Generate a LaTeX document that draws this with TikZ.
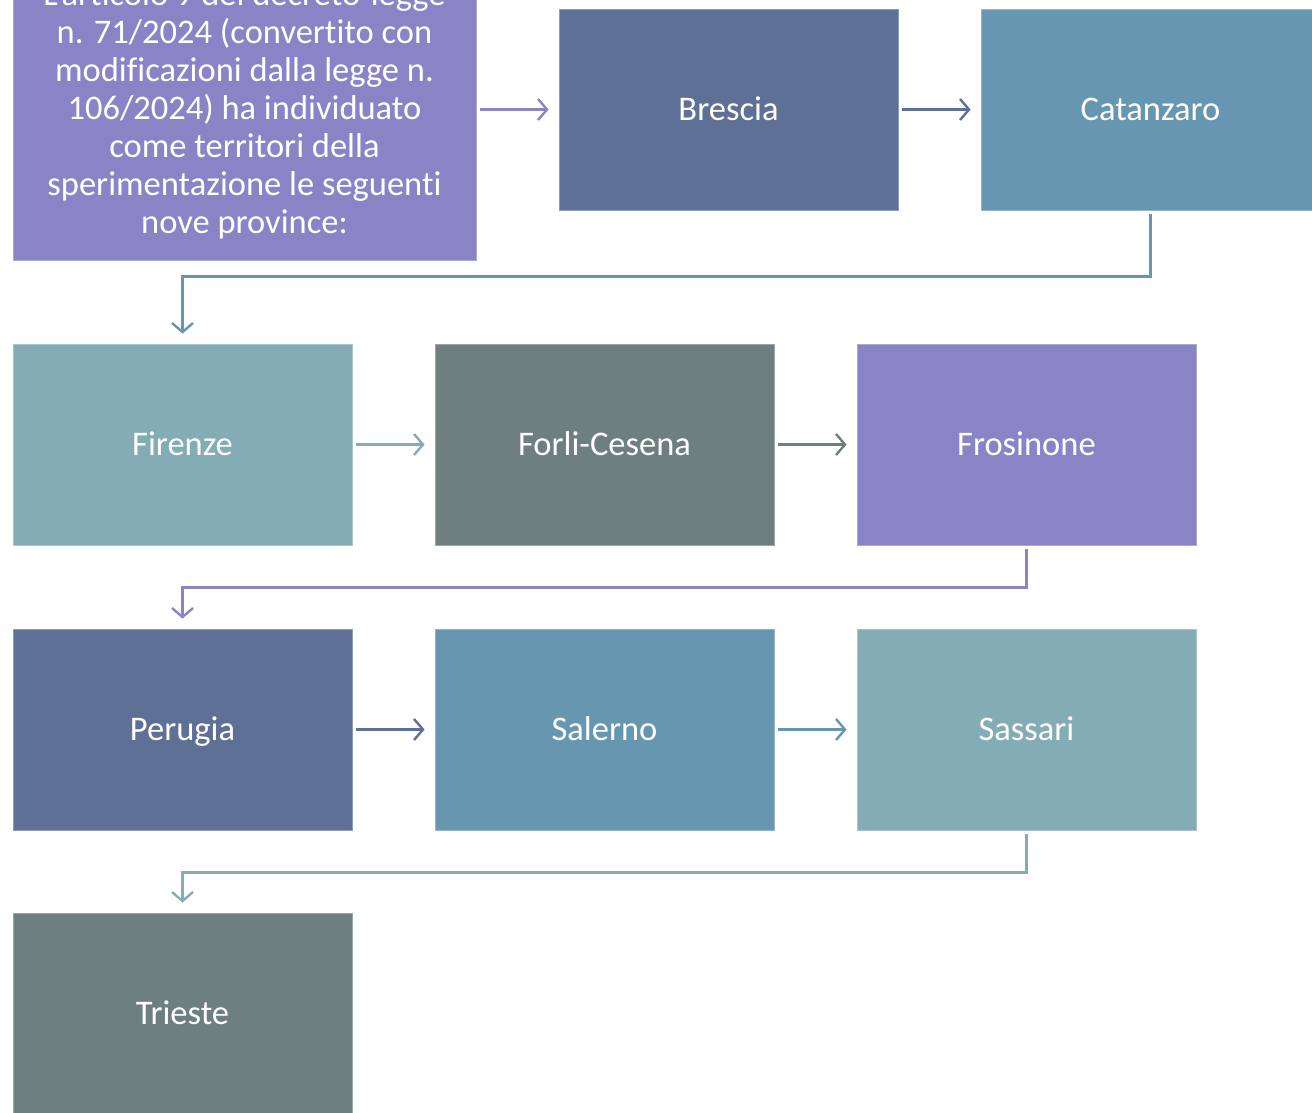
\documentclass[tikz,border=0pt]{standalone}
\usepackage{fontspec}
\setmainfont{Carlito}[Ligatures=NoCommon]
\usetikzlibrary{arrows.meta}
\definecolor{cPurple}{RGB}{136,132,198}
\definecolor{cNavy}{RGB}{95,112,151}
\definecolor{cBlue}{RGB}{103,151,176}
\definecolor{cTeal}{RGB}{132,172,180}
\definecolor{cGrey}{RGB}{110,127,128}
\tikzset{
  box/.style={rectangle, fill=#1, draw=#1!70!white, line width=0.8pt,
    minimum width=339pt, minimum height=201pt, inner sep=0pt,
    text=white, font=\fontsize{34.5}{38}\selectfont, align=center,
    text height=22pt, text depth=0pt},
  conn/.style={draw=#1, line width=2.4pt,
    -{Straight Barb[length=9pt,width=21pt,line width=2.4pt]},
    shorten <=4pt, shorten >=10pt},
}
\begin{document}
\begin{tikzpicture}[x=1pt,y=-1pt]
\useasboundingbox (0,0) rectangle (1312,1112);
\clip (0,0) rectangle (1312,1112);
\fill[white] (0,0) rectangle (1312,1112);
\node[box=cPurple, minimum width=463pt, minimum height=300pt, text height=, text depth=] (b0) at (244.5,110)
  {L'articolo 9 del decreto-legge\\ n. 71/2024 (convertito con\\ modificazioni dalla legge n.\\ 106/2024) ha individuato\\ come territori della\\ sperimentazione le seguenti\\ nove province:};
\node[box=cNavy] (bre) at (728.5,109.5) {Brescia};
\node[box=cBlue] (cat) at (1150.5,109.5) {Catanzaro};
\node[box=cTeal] (fir) at (182.5,444.5) {Firenze};
\node[box=cGrey] (for) at (604.5,444.5) {Forli-Cesena};
\node[box=cPurple] (fro) at (1026.5,444.5) {Frosinone};
\node[box=cNavy] (per) at (182.5,729.5) {Perugia};
\node[box=cBlue] (sal) at (604.5,729.5) {Salerno};
\node[box=cTeal] (sas) at (1026.5,729.5) {Sassari};
\node[box=cGrey] (tri) at (182.5,1013.5) {Trieste};

\draw[conn=cPurple] (b0.east |- bre.west) -- (bre.west);
\draw[conn=cNavy] (bre.east) -- (cat.west);
\draw[conn=cBlue] (cat.south) -- ++(0,66) -| (fir.north);
\draw[conn=cTeal] (fir.east) -- (for.west);
\draw[conn=cGrey] (for.east) -- (fro.west);
\draw[conn=cPurple] (fro.south) -- ++(0,42) -| (per.north);
\draw[conn=cNavy] (per.east) -- (sal.west);
\draw[conn=cBlue] (sal.east) -- (sas.west);
\draw[conn=cTeal] (sas.south) -- ++(0,42) -| (tri.north);
\end{tikzpicture}
\end{document}
